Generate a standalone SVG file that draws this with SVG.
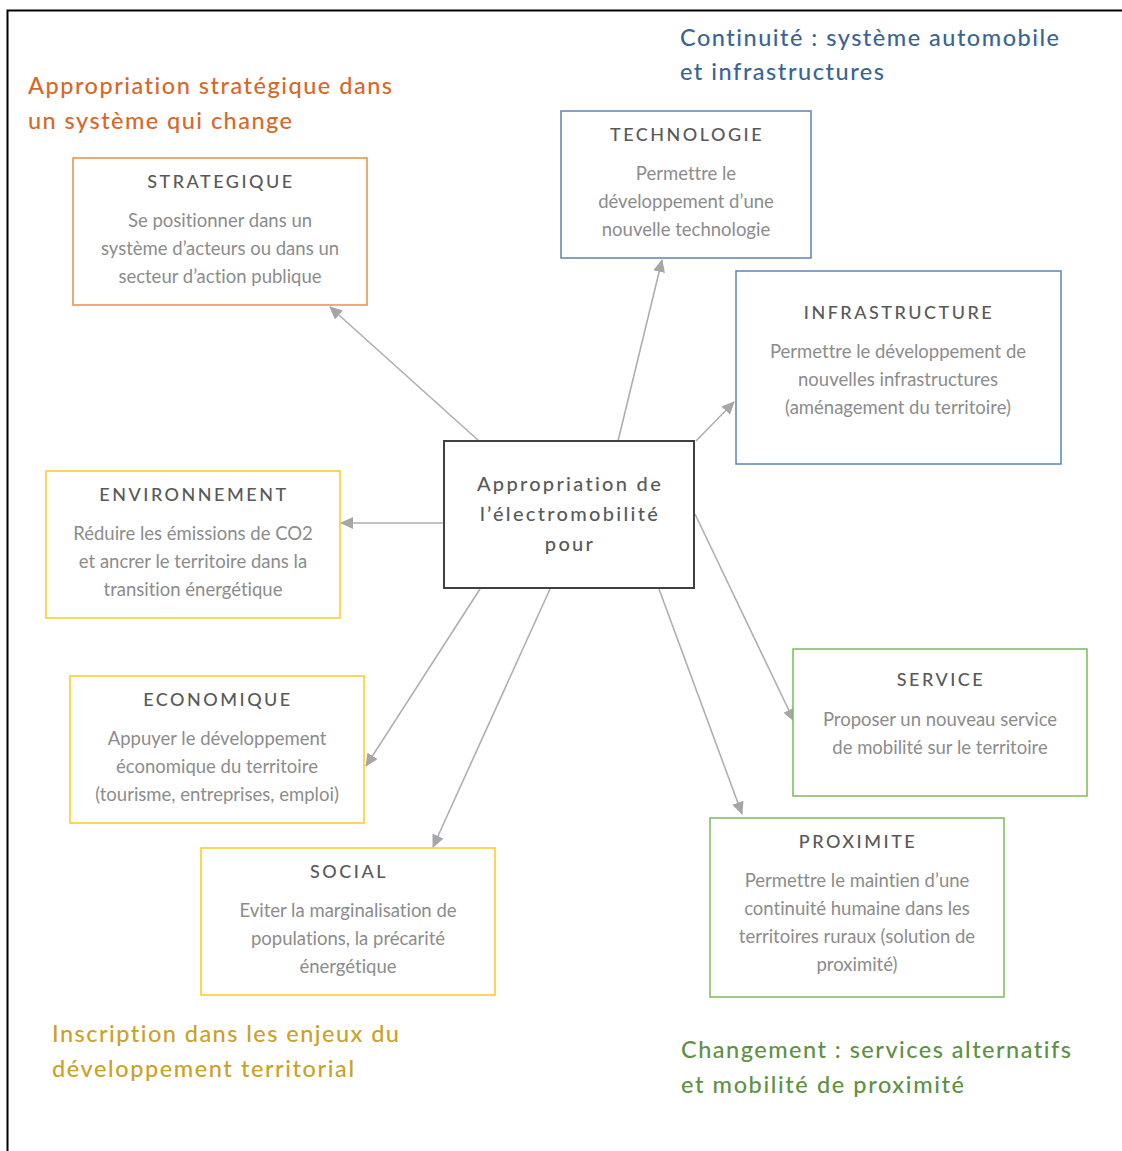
<svg xmlns="http://www.w3.org/2000/svg" width="1122" height="1151" viewBox="0 0 1122 1151">
<style>
text{font-variant-ligatures:none;font-feature-settings:"liga" 0,"dlig" 0}
.box{fill:#fff;stroke-width:1.5}
.or{stroke:#F08A4B}
.bl{stroke:#5A84B4}
.ye{stroke:#FFC825}
.gr{stroke:#7DBA5A}
.ttl{font-family:Lato,"Open Sans",sans-serif;font-size:18px;fill:#595959;letter-spacing:2.5px;text-anchor:middle;font-weight:500}
.bd{font-family:Lato,"Open Sans",sans-serif;font-size:18.5px;fill:#8c8c8c;text-anchor:middle;font-weight:400}
.ctr{font-family:Lato,"Open Sans",sans-serif;font-size:20px;fill:#595959;letter-spacing:2.3px;text-anchor:middle;font-weight:500}
.grp{font-family:Lato,"Open Sans",sans-serif;font-size:23.5px;font-weight:500}
.conn line{stroke:#AFAFAF;stroke-width:1.6;marker-end:url(#ah)}
</style>
<defs>
<marker id="ah" markerUnits="userSpaceOnUse" markerWidth="14" markerHeight="12" refX="12" refY="6" orient="auto">
<path d="M0,0 L13,6 L0,12 Z" fill="#A6A6A6"/>
</marker>
</defs>
<rect width="1122" height="1151" fill="#fff"/>
<path d="M7.5,1151 V10.5 H1122" fill="none" stroke="#000" stroke-width="2"/>

<g id="labels">
<text class="grp" fill="#D4692A" x="28" y="94" textLength="364" lengthAdjust="spacing">Appropriation stratégique dans</text>
<text class="grp" fill="#D4692A" x="28" y="129" textLength="264" lengthAdjust="spacing">un système qui change</text>
<text class="grp" fill="#3A6593" x="680" y="46" textLength="379" lengthAdjust="spacing">Continuité : système automobile</text>
<text class="grp" fill="#3A6593" x="680" y="80" textLength="204" lengthAdjust="spacing">et infrastructures</text>
<text class="grp" fill="#C9A227" x="52" y="1042" textLength="347" lengthAdjust="spacing">Inscription dans les enjeux du</text>
<text class="grp" fill="#C9A227" x="52" y="1077" textLength="302" lengthAdjust="spacing">développement territorial</text>
<text class="grp" fill="#5E9142" x="681" y="1058" textLength="390" lengthAdjust="spacing">Changement : services alternatifs</text>
<text class="grp" fill="#5E9142" x="681" y="1093" textLength="283" lengthAdjust="spacing">et mobilité de proximité</text>
</g>

<g class="conn" id="connectors">
<line x1="479" y1="441" x2="330" y2="307"/>
<line x1="618" y1="441" x2="662" y2="260"/>
<line x1="696" y1="441" x2="734" y2="402"/>
<line x1="444" y1="523" x2="341" y2="523"/>
<line x1="480" y1="589" x2="366" y2="766"/>
<line x1="550" y1="589" x2="433" y2="847"/>
<line x1="659" y1="589" x2="742" y2="814"/>
<line x1="695" y1="514" x2="794" y2="721"/>
</g>

<g id="center">
<rect x="444" y="441" width="250" height="147" fill="#fff" stroke="#404040" stroke-width="2"/>
<text class="ctr" x="570" y="491">Appropriation de</text>
<text class="ctr" x="570" y="521">l’électromobilité</text>
<text class="ctr" x="570" y="551">pour</text>
</g>

<g id="strategique">
<rect class="box or" x="73" y="158" width="294" height="147"/>
<text class="ttl" x="221" y="188">STRATEGIQUE</text>
<text class="bd" x="220" y="227">Se positionner dans un</text>
<text class="bd" x="220" y="255">système d’acteurs ou dans un</text>
<text class="bd" x="220" y="283">secteur d’action publique</text>
</g>

<g id="technologie">
<rect class="box bl" x="561" y="111" width="250" height="147"/>
<text class="ttl" x="687" y="141">TECHNOLOGIE</text>
<text class="bd" x="686" y="180">Permettre le</text>
<text class="bd" x="686" y="208">développement d’une</text>
<text class="bd" x="686" y="236">nouvelle technologie</text>
</g>

<g id="infrastructure">
<rect class="box bl" x="736" y="271" width="325" height="193"/>
<text class="ttl" x="899" y="319">INFRASTRUCTURE</text>
<text class="bd" x="898" y="358">Permettre le développement de</text>
<text class="bd" x="898" y="386">nouvelles infrastructures</text>
<text class="bd" x="898" y="414">(aménagement du territoire)</text>
</g>

<g id="environnement">
<rect class="box ye" x="46" y="471" width="294" height="147"/>
<text class="ttl" x="194" y="501">ENVIRONNEMENT</text>
<text class="bd" x="193" y="540">Réduire les émissions de CO2</text>
<text class="bd" x="193" y="568">et ancrer le territoire dans la</text>
<text class="bd" x="193" y="596">transition énergétique</text>
</g>

<g id="economique">
<rect class="box ye" x="70" y="676" width="294" height="147"/>
<text class="ttl" x="218" y="706">ECONOMIQUE</text>
<text class="bd" x="217" y="745">Appuyer le développement</text>
<text class="bd" x="217" y="773">économique du territoire</text>
<text class="bd" x="217" y="801">(tourisme, entreprises, emploi)</text>
</g>

<g id="social">
<rect class="box ye" x="201" y="848" width="294" height="147"/>
<text class="ttl" x="349" y="878">SOCIAL</text>
<text class="bd" x="348" y="917">Eviter la marginalisation de</text>
<text class="bd" x="348" y="945">populations, la précarité</text>
<text class="bd" x="348" y="973">énergétique</text>
</g>

<g id="service">
<rect class="box gr" x="793" y="649" width="294" height="147"/>
<text class="ttl" x="941" y="686">SERVICE</text>
<text class="bd" x="940" y="726">Proposer un nouveau service</text>
<text class="bd" x="940" y="754">de mobilité sur le territoire</text>
</g>

<g id="proximite">
<rect class="box gr" x="710" y="818" width="294" height="179"/>
<text class="ttl" x="858" y="848">PROXIMITE</text>
<text class="bd" x="857" y="887">Permettre le maintien d’une</text>
<text class="bd" x="857" y="915">continuité humaine dans les</text>
<text class="bd" x="857" y="943">territoires ruraux (solution de</text>
<text class="bd" x="857" y="971">proximité)</text>
</g>
</svg>
